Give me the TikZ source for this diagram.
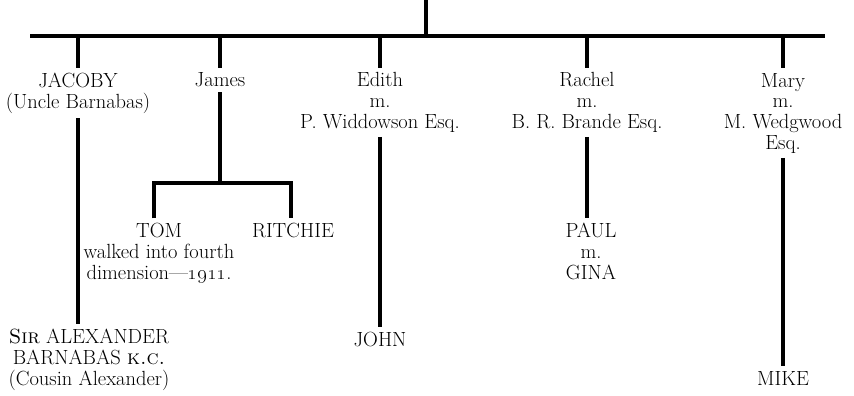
\documentclass[tikz,border=0pt]{standalone}
\begin{document}
\begin{tikzpicture}[x=1pt,y=-1pt,
  line width=3.2pt,
  % anchor=base sits on the baseline of the last line of each name
  person/.style={align=center,anchor=base,inner xsep=0pt,inner ysep=5pt,outer sep=0pt,
    font=\fontsize{20.5}{20.6}\selectfont},
]
\useasboundingbox (0,0) rectangle (854,396);

% generation of the children
\node[person] (jacoby) at (78,108) {JACOBY\\(Uncle Barnabas)};
\node[person] (james)  at (220,87) {James};
\node[person] (edith)  at (380,128) {Edith\\m.\\P. Widdowson Esq.};
\node[person] (rachel) at (587,128) {Rachel\\m.\\B. R. Brande Esq.};
\node[person] (mary)   at (783,149) {Mary\\m.\\M. Wedgwood\\Esq.};

% grandchildren
\node[person] (tom)     at (159,279) {TOM\\walked into fourth\\dimension---\oldstylenums{1911}.};
\node[person] (ritchie) at (293,237) {RITCHIE};
\node[person] (paul)    at (591,279) {PAUL\\m.\\GINA};
\node[person] (sir)     at (89,385) {\textsc{Sir} ALEXANDER\\BARNABAS \textsc{k.c.}\\(Cousin Alexander)};
\node[person] (john)    at (380,346) {JOHN};
\node[person] (mike)    at (783,385) {MIKE};

% main bar and the line from above
\coordinate (root) at (426,0);
\coordinate (barL) at (30,36);
\coordinate (barR) at (825,36);
\draw (root) -- (root |- barL);
\draw (barL) -- (barR);

% drops to each child
\foreach \c in {jacoby,james,edith,rachel,mary}
  \draw (\c.north |- barL) -- (\c.north);

% James's family bar
\coordinate (jbar) at (220,183);
\coordinate (tomdrop) at (154,183);
\coordinate (ritdrop) at (291,183);
\draw (james.south) -- (jbar);
\draw (tomdrop |- tom.north) -- (tomdrop) -- (ritdrop) -- (ritdrop |- ritchie.north);

% direct lines of descent
\draw (jacoby.south) -- (jacoby.south |- sir.north);
\draw (edith.south) -- (john.north);
\draw (rachel.south) -- (rachel.south |- paul.north);
\draw (mary.south) -- (mike.north);
\end{tikzpicture}
\end{document}
